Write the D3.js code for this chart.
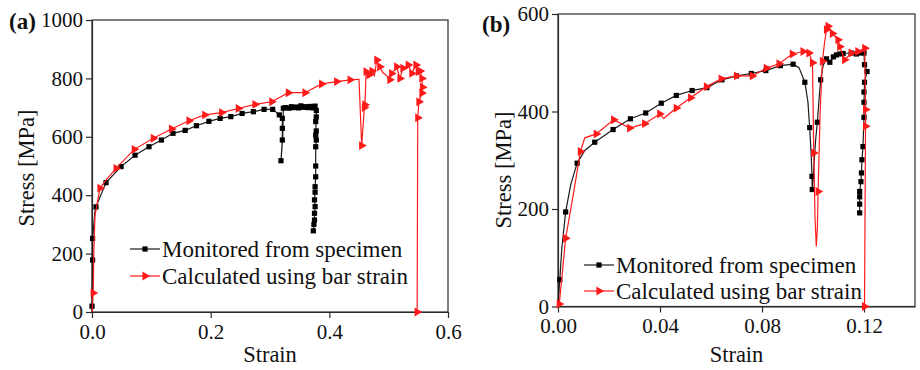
<!DOCTYPE html>
<html>
<head>
<meta charset="utf-8">
<script src="https://cdn.jsdelivr.net/npm/d3@7"></script>
<style>
  html, body { margin: 0; padding: 0; background: #fff; }
  svg { display: block; font-family: "Liberation Serif", "Times New Roman", serif; }
</style>
</head>
<body>
<svg id="chart" width="920" height="370"></svg>
<script>
// ---- Panel (a): stress-strain, wide strain range ----
const aTicksX = [0, 0.2, 0.4, 0.6];
const aTicksY = [0, 200, 400, 600, 800, 1000];
const aBlackLine = [[0,0],[0,20],[0.001,178],[0.001,252],[0.005,345],[0.0067,360],[0.0236,443],[0.049,498],[0.0725,537],[0.096,566],[0.117,589],[0.1365,612],[0.157,622],[0.176,638],[0.197,653],[0.216,663],[0.234,669],[0.253,680],[0.272,686],[0.29,694],[0.3045,694],[0.3157,675],[0.3208,663],[0.3208,629],[0.3208,589],[0.3185,518],[0.3215,600],[0.3225,698],[0.326,700],[0.332,698],[0.336,703],[0.34,700],[0.344,702],[0.348,699],[0.352,706],[0.356,701],[0.36,703],[0.364,700],[0.368,704],[0.372,699],[0.376,705],[0.378,690],[0.378,668],[0.377,652],[0.378,620],[0.377,606],[0.378,589],[0.377,566],[0.377,500],[0.377,463],[0.376,429],[0.376,410],[0.375,384],[0.376,361],[0.375,338],[0.375,315],[0.374,300],[0.373,278]];
const aBlackMarks = [[0,20],[0.001,178],[0.001,252],[0.0067,360],[0.0236,443],[0.049,498],[0.0725,537],[0.096,566],[0.117,589],[0.1365,612],[0.157,622],[0.176,638],[0.197,653],[0.216,663],[0.234,669],[0.253,680],[0.272,686],[0.29,694],[0.3045,694],[0.3157,675],[0.3208,663],[0.3208,629],[0.3208,589],[0.3185,518],[0.3225,698],[0.326,700],[0.332,698],[0.336,703],[0.34,700],[0.344,702],[0.348,699],[0.352,706],[0.356,701],[0.36,703],[0.364,700],[0.368,704],[0.372,699],[0.376,705],[0.378,690],[0.378,668],[0.377,652],[0.378,620],[0.377,606],[0.378,589],[0.377,566],[0.377,500],[0.377,463],[0.376,429],[0.376,410],[0.375,384],[0.376,361],[0.375,338],[0.375,315],[0.374,300],[0.373,278]];
const aRedLine = [[0,0],[0.002,65],[0.003,200],[0.005,330],[0.0135,424],[0.025,455],[0.0405,492],[0.0713,557],[0.1034,595],[0.134,627],[0.1635,655],[0.19,675],[0.2186,683],[0.2466,697],[0.2747,711],[0.303,720],[0.331,751],[0.359,751],[0.387,781],[0.4124,789],[0.435,795],[0.45,797],[0.4545,570],[0.459,700],[0.46,710],[0.462,823],[0.467,812],[0.472,825],[0.476,810],[0.48,863],[0.485,840],[0.49,820],[0.495,812],[0.502,795],[0.505,817],[0.5135,840],[0.519,800],[0.524,835],[0.533,846],[0.539,817],[0.546,846],[0.55,823],[0.553,825],[0.556,800],[0.557,770],[0.556,750],[0.551,720],[0.549,665],[0.548,0]];
const aRedMarks = [[0.002,65],[0.0135,424],[0.0405,492],[0.0713,557],[0.1034,595],[0.134,627],[0.1635,655],[0.19,675],[0.2186,683],[0.2466,697],[0.2747,711],[0.303,720],[0.331,751],[0.359,751],[0.387,781],[0.4124,789],[0.435,795],[0.4545,570],[0.459,700],[0.46,710],[0.462,823],[0.467,812],[0.472,825],[0.48,863],[0.485,840],[0.502,795],[0.505,817],[0.5135,840],[0.519,800],[0.524,835],[0.533,846],[0.539,817],[0.546,846],[0.55,823],[0.553,825],[0.556,800],[0.557,770],[0.556,750],[0.551,720],[0.549,665],[0.548,0]];

// ---- Panel (b): stress-strain, narrow strain range ----
const bTicksX = [0, 0.04, 0.08, 0.12];
const bTicksY = [0, 200, 400, 600];
const bBlackLine = [[0,0],[0.0007,55],[0.0015,120],[0.003,194],[0.005,250],[0.0075,294],[0.0105,320],[0.0144,337],[0.0216,363],[0.0284,385],[0.0344,397],[0.0405,417],[0.0464,433],[0.0526,443],[0.0584,449],[0.0643,465],[0.07,473],[0.0758,478],[0.0815,484],[0.0872,494],[0.0922,497],[0.0945,490],[0.0968,460],[0.098,420],[0.0987,367],[0.0993,310],[0.0996,267],[0.0997,240],[0.0999,250],[0.1005,300],[0.101,340],[0.1017,378],[0.1023,420],[0.103,465],[0.104,495],[0.1053,508],[0.1066,501],[0.108,512],[0.1092,516],[0.1118,519],[0.115,520],[0.1183,520],[0.12,520],[0.1202,496],[0.1212,482],[0.1202,460],[0.12,419],[0.12,388],[0.1196,328],[0.1192,301],[0.119,274],[0.1188,256],[0.1183,236],[0.1183,219],[0.1183,192]];
const bBlackMarks = [[0.0007,55],[0.003,194],[0.0075,294],[0.0144,337],[0.0216,363],[0.0284,385],[0.0344,397],[0.0405,417],[0.0464,433],[0.0526,443],[0.0584,449],[0.0643,465],[0.07,473],[0.0758,478],[0.0815,484],[0.0872,494],[0.0922,497],[0.0968,460],[0.0987,367],[0.0996,267],[0.0997,240],[0.1017,378],[0.103,465],[0.1053,508],[0.1066,501],[0.108,512],[0.1092,516],[0.1105,518],[0.1118,519],[0.115,520],[0.117,518],[0.1183,520],[0.12,520],[0.1202,496],[0.1212,482],[0.1202,460],[0.12,440],[0.12,419],[0.12,388],[0.1196,328],[0.1192,301],[0.119,274],[0.1188,256],[0.1183,236],[0.1183,225],[0.1183,210],[0.1183,192]];
const bRedLine = [[0,0],[0.0005,5],[0.003,140],[0.006,230],[0.0088,318],[0.0105,346],[0.015,354],[0.0218,383],[0.0281,366],[0.034,375],[0.0399,395],[0.0415,386],[0.0464,407],[0.052,428],[0.0582,451],[0.064,467],[0.07,473],[0.0762,473],[0.0817,489],[0.0867,498],[0.0919,518],[0.0961,523],[0.0984,520],[0.0998,500],[0.1003,315],[0.1008,180],[0.1013,123],[0.1017,160],[0.102,236],[0.1028,400],[0.1037,503],[0.1045,540],[0.1053,568],[0.1059,575],[0.1076,560],[0.1098,547],[0.1105,533],[0.1124,506],[0.115,520],[0.1176,523],[0.1203,530],[0.1206,404],[0.1206,370],[0.1202,0]];
const bRedMarks = [[0.0005,5],[0.003,140],[0.0088,318],[0.015,354],[0.0218,383],[0.0281,366],[0.034,375],[0.0399,395],[0.0464,407],[0.052,428],[0.0582,451],[0.064,467],[0.07,473],[0.0762,473],[0.0817,489],[0.0867,498],[0.0919,518],[0.0961,523],[0.0984,520],[0.0998,500],[0.1003,315],[0.102,236],[0.1037,503],[0.1053,568],[0.1059,575],[0.1076,560],[0.1098,547],[0.1105,533],[0.1124,506],[0.115,520],[0.1176,523],[0.1203,530],[0.1206,404],[0.1206,370],[0.1202,0]];

const legendLabels = ["Monitored from specimen", "Calculated using bar strain"];
const xTitle = "Strain";
const yTitle = "Stress [MPa]";

const SERIF = '"Liberation Serif", "Times New Roman", serif';
const svg = d3.select("#chart");
const AXIS = "#2a2a2a";
const RED = "#ff1a1a";

function drawPanel(cfg) {
  const g = svg.append("g");
  const x = d3.scaleLinear().domain(cfg.xDomain).range([cfg.left, cfg.right]);
  const y = d3.scaleLinear().domain(cfg.yDomain).range([cfg.bottom, cfg.top]);

  // frame (top and right edges)
  g.append("rect")
    .attr("x", cfg.left).attr("y", cfg.top)
    .attr("width", cfg.right - cfg.left).attr("height", cfg.bottom - cfg.top)
    .attr("fill", "none").attr("stroke", AXIS).attr("stroke-width", 1.2);

  const xAxis = d3.axisBottom(x).tickValues(cfg.xTicks).tickFormat(d3.format(cfg.xFmt))
    .tickSizeInner(6).tickSizeOuter(0).tickPadding(6);
  const yAxis = d3.axisLeft(y).tickValues(cfg.yTicks).tickFormat(d3.format("d"))
    .tickSizeInner(6).tickSizeOuter(0).tickPadding(3);

  const gx = g.append("g").attr("transform", `translate(0,${cfg.bottom})`).call(xAxis);
  const gy = g.append("g").attr("transform", `translate(${cfg.left},0)`).call(yAxis);
  [gx, gy].forEach(a => {
    a.attr("font-family", SERIF).attr("font-size", 21);
    a.select(".domain").attr("stroke", AXIS).attr("stroke-width", 1.2);
    a.selectAll(".tick line").attr("stroke", AXIS).attr("stroke-width", 1.2);
    a.selectAll(".tick text").attr("fill", "#111");
  });

  // axis titles
  g.append("text").attr("x", (cfg.left + cfg.right) / 2).attr("y", 362)
    .attr("text-anchor", "middle").attr("fill", "#111").style("font-size", "22.5px").text(xTitle);
  g.append("text")
    .attr("transform", `translate(${cfg.yTitleX},${cfg.yTitleY}) rotate(-90)`)
    .attr("text-anchor", "middle").attr("fill", "#111").style("font-size", "22.5px").text(yTitle);

  // panel letter
  g.append("text").attr("x", cfg.tagX).attr("y", cfg.tagY)
    .attr("fill", "#111").style("font-size", "23px").style("font-weight", "bold").text(cfg.tag);

  const line = d3.line().x(d => x(d[0])).y(d => y(d[1]));
  const tri = d3.symbol().type(d3.symbolTriangle).size(34);

  // specimen curve
  g.append("path").datum(cfg.blackLine).attr("d", line)
    .attr("fill", "none").attr("stroke", "#1a1a1a").attr("stroke-width", 1.2);
  g.selectAll(".sq").data(cfg.blackMarks).join("rect")
    .attr("x", d => x(d[0]) - 2.6).attr("y", d => y(d[1]) - 2.6)
    .attr("width", 5.2).attr("height", 5.2).attr("fill", "#000");

  // bar-strain curve
  g.append("path").datum(cfg.redLine).attr("d", line)
    .attr("fill", "none").attr("stroke", RED).attr("stroke-width", 1.2);
  g.selectAll(".tr").data(cfg.redMarks).join("path")
    .attr("d", tri)
    .attr("transform", d => `translate(${x(d[0])},${y(d[1])}) rotate(90)`)
    .attr("fill", RED);

  // legend
  const lg = g.append("g");
  [0, 1].forEach(i => {
    const ly = cfg.legY[i];
    lg.append("line").attr("x1", cfg.legX).attr("x2", cfg.legX + 30)
      .attr("y1", ly).attr("y2", ly)
      .attr("stroke", i === 0 ? "#1a1a1a" : RED).attr("stroke-width", 1.2);
    if (i === 0) {
      lg.append("rect").attr("x", cfg.legX + 15 - 2.6).attr("y", ly - 2.6)
        .attr("width", 5.2).attr("height", 5.2).attr("fill", "#000");
    } else {
      lg.append("path").attr("d", tri)
        .attr("transform", `translate(${cfg.legX + 15},${ly}) rotate(90)`).attr("fill", RED);
    }
    lg.append("text").attr("x", cfg.legX + 32).attr("y", ly + 7.5)
      .attr("fill", "#111").style("font-size", "23px").text(legendLabels[i]);
  });
}

drawPanel({
  left: 92, right: 448, top: 20, bottom: 312,
  xDomain: [0, 0.6], yDomain: [0, 1000],
  xTicks: aTicksX, yTicks: aTicksY, xFmt: ".1f",
  blackLine: aBlackLine, blackMarks: aBlackMarks, redLine: aRedLine, redMarks: aRedMarks,
  yTitleX: 34, yTitleY: 168, tag: "(a)", tagX: 9, tagY: 29,
  legX: 130, legY: [249, 276]
});

drawPanel({
  left: 558, right: 915, top: 14, bottom: 306.5,
  xDomain: [0, 0.14], yDomain: [0, 600],
  xTicks: bTicksX, yTicks: bTicksY, xFmt: ".2f",
  blackLine: bBlackLine, blackMarks: bBlackMarks, redLine: bRedLine, redMarks: bRedMarks,
  yTitleX: 511, yTitleY: 170, tag: "(b)", tagX: 482, tagY: 32,
  legX: 584, legY: [265, 291]
});
</script>
</body>
</html>
